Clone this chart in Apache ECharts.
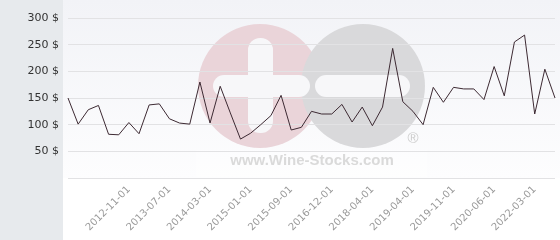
<!DOCTYPE html>
<html>
<head>
<meta charset="utf-8">
<script src="https://cdn.jsdelivr.net/npm/echarts@6/dist/echarts.min.js"></script>
<style>html,body{margin:0;padding:0;background:#fff;}#c{width:560px;height:240px;}</style>
</head>
<body>
<div id="c"></div>
<script>
const prices = [150, 101, 128, 136, 82, 81, 104, 83, 137, 139,
  111, 103, 101, 180, 103, 172, 122, 73, 84, 100,
  117, 155, 90, 95, 125, 120, 120, 138, 105, 133,
  98, 133, 243, 143, 125, 100, 170, 142, 170, 167,
  167, 147, 209, 154, 255, 268, 120, 204, 150];
// Labelled dates on the x axis (every 4th observation, starting at observation 6)
const tickDates = ['2012-11-01', '2013-07-01', '2014-03-01', '2015-01-01', '2015-09-01',
  '2016-12-01', '2018-04-01', '2019-04-01', '2019-11-01', '2020-06-01', '2022-03-01'];
const tickStart = 6, tickStep = 4;
const yTicks = [0, 50, 100, 150, 200, 250, 300];

const categories = prices.map((_, i) => {
  const k = (i - tickStart) / tickStep;
  return (i >= tickStart && Number.isInteger(k) && k < tickDates.length) ? tickDates[k] : ('#' + i);
});

const chart = echarts.init(document.getElementById('c'), null, {renderer: 'canvas'});
chart.setOption({
  animation: false,
  backgroundColor: '#ffffff',
  grid: {left: 68, right: 5, top: 18, bottom: 62, containLabel: false},
  graphic: [
    {type: 'rect', z: -20, shape: {x: 63, y: 0, width: 497, height: 178},
      style: {fill: new echarts.graphic.LinearGradient(0, 0, 0, 1, [
        {offset: 0, color: '#f2f3f7'}, {offset: 1, color: '#fdfdfe'}])}},
    {type: 'rect', z: -20, shape: {x: 0, y: 0, width: 63, height: 240}, style: {fill: '#e7eaed'}},
    {type: 'circle', z: -10, shape: {cx: 260, cy: 86, r: 62}, style: {fill: '#ead4d9'}},
    {type: 'circle', z: -10, shape: {cx: 363, cy: 86, r: 62}, style: {fill: '#d9d9db'}},
    {type: 'rect', z: -9, shape: {x: 213, y: 75, width: 97, height: 22, r: 11}, style: {fill: '#f7f7f9'}},
    {type: 'rect', z: -9, shape: {x: 248, y: 38, width: 25, height: 95, r: 12}, style: {fill: '#f7f7f9'}},
    {type: 'rect', z: -9, shape: {x: 315, y: 75, width: 95, height: 22, r: 11}, style: {fill: '#f7f7f9'}},
    {type: 'rect', z: -9, shape: {x: 196, y: 150, width: 231, height: 27}, style: {fill: 'rgba(255,255,255,0.35)'}},
    {type: 'text', z: -8, style: {x: 413, y: 139, text: '®', font: '15px "Liberation Sans"', fill: '#cccccc', align: 'center', verticalAlign: 'middle'}},
    {type: 'text', z: -8, style: {x: 312, y: 161, text: 'www.Wine-Stocks.com', font: 'bold 15px "Liberation Sans"', fill: '#dadada', align: 'center', verticalAlign: 'middle'}}
  ],
  xAxis: {
    type: 'category',
    data: categories,
    boundaryGap: false,
    axisLine: {show: false},
    axisTick: {show: false},
    splitLine: {show: false},
    axisLabel: {
      interval: (i) => i >= tickStart && (i - tickStart) % tickStep === 0,
      formatter: (v) => v.charAt(0) === '#' ? '' : v,
      rotate: 45,
      margin: 10,
      color: '#9a9a9a',
      fontFamily: 'DejaVu Sans',
      fontSize: 10
    }
  },
  yAxis: {
    type: 'value',
    min: yTicks[0],
    max: yTicks[yTicks.length - 1],
    interval: 50,
    axisLine: {show: false},
    axisTick: {show: false},
    splitLine: {show: true, lineStyle: {color: '#e2e2e4', width: 1}},
    axisLabel: {
      formatter: (v) => v === 0 ? '' : v + ' $',
      margin: 9,
      color: '#333333',
      fontFamily: 'DejaVu Sans',
      fontSize: 11
    }
  },
  series: [{
    type: 'line',
    data: prices,
    symbol: 'none',
    lineStyle: {color: '#3d2a33', width: 1},
    z: 5
  }]
});
</script>
</body>
</html>
